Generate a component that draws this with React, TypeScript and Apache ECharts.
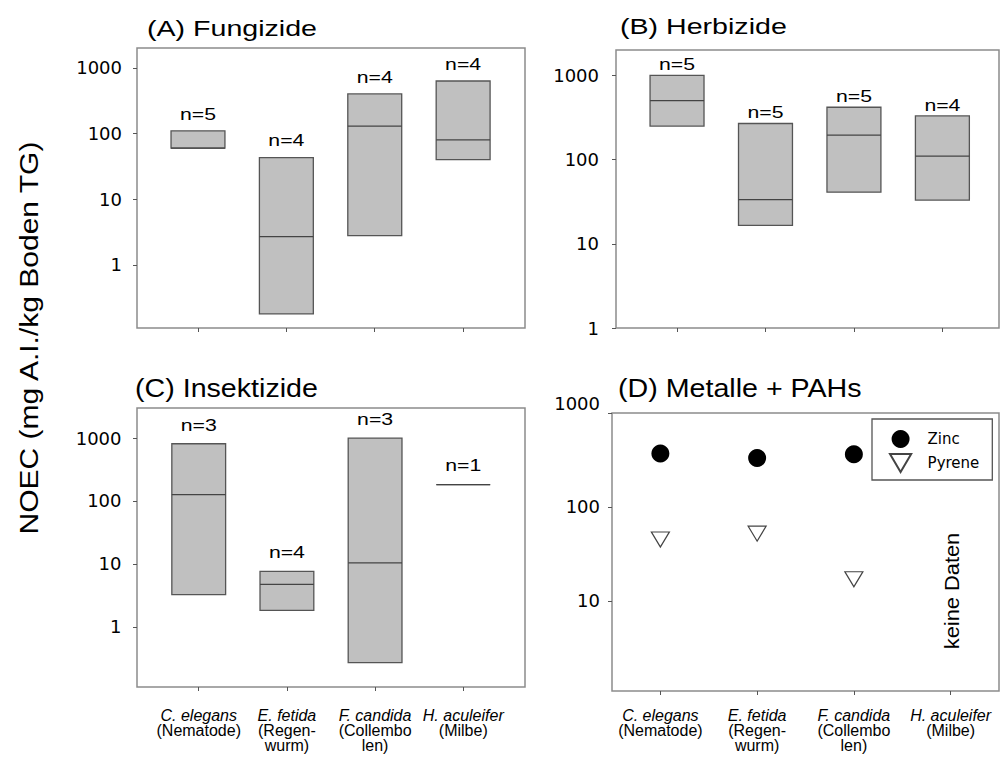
import React, { useEffect, useRef } from "react";
import * as echarts from "echarts";

// ---- data ----
const positions = [1, 2, 3, 4];
const species = ["C. elegans", "E. fetida", "F. candida", "H. aculeifer"];
const groupNames = ["(Nematode)", "(Regen-\nwurm)", "(Collembo\nlen)", "(Milbe)"];

const fungLow = [60, 0.18, 2.8, 40];
const fungMed = [60, 2.7, 130, 80];
const fungHigh = [110, 43, 400, 630];
const fungN = [5, 4, 4, 4];

const herbLow = [250, 16.5, 41, 33];
const herbMed = [500, 33.5, 195, 110];
const herbHigh = [1000, 268, 418, 330];
const herbN = [5, 5, 5, 4];

const insLow = [3.25, 1.83, 0.27, 182];
const insMed = [126, 4.75, 10.4, 182];
const insHigh = [811, 7.6, 1000, 182];
const insN = [3, 4, 3, 1];

const zincPos = [1, 2, 3];
const zincVals = [370, 332, 364];
const pyrenePos = [1, 2, 3];
const pyreneVals = [45, 52, 17];

const yTicksABC = [1, 10, 100, 1000];
const yTicksD = [10, 100, 1000];

const titles = ["(A) Fungizide", "(B) Herbizide", "(C) Insektizide", "(D) Metalle + PAHs"];
const yTitle = "NOEC (mg A.I./kg Boden TG)";
const noDataText = "keine Daten";

const ARIAL = '"Liberation Sans", Arial, sans-serif';
const DEJAVU = '"DejaVu Sans", sans-serif';
const TRI = "path://M0,0L20,0L10,17Z";

function boxData(low: number[], med: number[], high: number[], n: number[]) {
  return positions.map((p, i) => [p, low[i], med[i], high[i], n[i]]);
}

function makeRender(labelOffset: number) {
  return (params: any, api: any) => {
    const x = api.value(0);
    const lo = api.value(1);
    const md = api.value(2);
    const hi = api.value(3);
    const n = api.value(4);
    const pLo = api.coord([x, lo]);
    const pHi = api.coord([x, hi]);
    const pMd = api.coord([x, md]);
    const xl = api.coord([x - 0.305, hi])[0];
    const xr = api.coord([x + 0.305, hi])[0];
    return {
      type: "group",
      children: [
        {
          type: "rect",
          shape: { x: xl, y: pHi[1], width: xr - xl, height: pLo[1] - pHi[1] },
          style: { fill: "#c0c0c0", stroke: "#555555", lineWidth: 1.3 },
        },
        {
          type: "line",
          shape: { x1: xl, y1: pMd[1], x2: xr, y2: pMd[1] },
          style: { stroke: "#444444", lineWidth: 1.3 },
        },
        {
          type: "text",
          x: pHi[0],
          y: pHi[1] - labelOffset,
          scaleX: 1.25,
          style: {
            text: "n=" + n,
            fontSize: 17,
            fontFamily: ARIAL,
            fill: "#000",
            align: "center",
            verticalAlign: "middle",
          },
        },
      ],
    };
  };
}

function xLabelFormatter(v: number) {
  const i = Math.round(v) - 1;
  const lines = groupNames[i].split("\n").map((l) => `{n|${l}}`);
  return [`{i|${species[i]}}`, ...lines].join("\n");
}

const richX = {
  i: { fontStyle: "italic", fontSize: 16, fontFamily: ARIAL, lineHeight: 15, color: "#000" },
  n: { fontSize: 16, fontFamily: ARIAL, lineHeight: 15, color: "#000" },
};

function xAxis(gridIndex: number, min: number, max: number, showLabels: boolean, margin: number) {
  return {
    type: "value",
    gridIndex,
    min,
    max,
    axisLine: { show: false },
    splitLine: { show: false },
    axisTick: { show: true, customValues: positions, length: 4, lineStyle: { color: "#555", width: 1 } },
    axisLabel: showLabels
      ? { show: true, customValues: positions, formatter: xLabelFormatter, rich: richX, margin, align: "center" }
      : { show: false },
  };
}

function yAxis(gridIndex: number, min: number, max: number, ticks: number[], margin: number, liftTop: boolean) {
  return {
    type: "log",
    logBase: 10,
    gridIndex,
    min,
    max,
    axisLine: { show: false },
    splitLine: { show: false },
    minorTick: { show: false },
    axisTick: { show: true, customValues: ticks, length: 4, lineStyle: { color: "#555", width: 1 } },
    axisLabel: {
      show: true,
      customValues: ticks,
      formatter: (v: number) => {
        const s = String(Math.round(v));
        return liftTop && Math.round(v) === max ? `{up|${s}}` : `{d|${s}}`;
      },
      rich: {
        d: { fontFamily: DEJAVU, fontSize: 18, color: "#000" },
        up: { fontFamily: DEJAVU, fontSize: 18, color: "#000", padding: [0, 0, 20, 0] },
      },
      fontFamily: DEJAVU,
      fontSize: 18,
      color: "#000",
      margin,
    },
  };
}

const gridStyle = { show: true, borderColor: "#8c8c8c", borderWidth: 1.5, backgroundColor: "transparent" };

export default function App() {
  const ref = useRef<HTMLDivElement>(null);
  useEffect(() => {
    if (!ref.current) return;
    const chart = echarts.init(ref.current, undefined, { renderer: "svg" });
    const option: any = {
      animation: false,
      backgroundColor: "#fff",
      textStyle: { fontFamily: ARIAL },
      grid: [
        { left: 137, top: 48, width: 388, height: 280, ...gridStyle },
        { left: 616, top: 50, width: 383, height: 278, ...gridStyle },
        { left: 137, top: 408, width: 388, height: 279, ...gridStyle },
        { left: 612, top: 413, width: 387, height: 278, ...gridStyle },
      ],
      xAxis: [
        xAxis(0, 0.31, 4.7, false, 8),
        xAxis(1, 0.31, 4.64, false, 8),
        xAxis(2, 0.3, 4.7, true, 21),
        xAxis(3, 0.5, 4.5, true, 17),
      ],
      yAxis: [
        yAxis(0, 0.11, 2000, yTicksABC, 15, false),
        yAxis(1, 1, 2000, yTicksABC, 17, false),
        yAxis(2, 0.111, 3000, yTicksABC, 15.5, false),
        yAxis(3, 1.1, 1000, yTicksD, 12, true),
      ],
      legend: {
        data: ["Zinc", "Pyrene"],
        orient: "vertical",
        left: 872,
        top: 419,
        itemWidth: 44,
        itemHeight: 18,
        itemGap: 5,
        padding: [11, 13, 7, 17],
        borderColor: "#555",
        borderWidth: 1.3,
        selectedMode: false,
        textStyle: { fontFamily: DEJAVU, fontSize: 15, color: "#000" },
      },
      series: [
        {
          type: "custom",
          xAxisIndex: 0,
          yAxisIndex: 0,
          renderItem: makeRender(17),
          encode: { x: 0, y: [1, 2, 3] },
          data: boxData(fungLow, fungMed, fungHigh, fungN),
        },
        {
          type: "custom",
          xAxisIndex: 1,
          yAxisIndex: 1,
          renderItem: makeRender(11),
          encode: { x: 0, y: [1, 2, 3] },
          data: boxData(herbLow, herbMed, herbHigh, herbN),
        },
        {
          type: "custom",
          xAxisIndex: 2,
          yAxisIndex: 2,
          renderItem: makeRender(19),
          encode: { x: 0, y: [1, 2, 3] },
          data: boxData(insLow, insMed, insHigh, insN),
        },
        {
          name: "Zinc",
          type: "scatter",
          xAxisIndex: 3,
          yAxisIndex: 3,
          symbol: "circle",
          symbolSize: 18,
          itemStyle: { color: "#000", opacity: 1 },
          data: zincPos.map((p, i) => [p, zincVals[i]]),
        },
        {
          name: "Pyrene",
          type: "scatter",
          xAxisIndex: 3,
          yAxisIndex: 3,
          symbol: TRI,
          symbolSize: [18, 15],
          itemStyle: { color: "#fff", borderColor: "#444", borderWidth: 1.2, opacity: 1 },
          data: pyrenePos.map((p, i) => [p, pyreneVals[i]]),
        },
      ],
      graphic: [
        {
          type: "text", x: 147, y: 28, scaleX: 1.3,
          style: { text: titles[0], fontSize: 22, fontFamily: ARIAL, fill: "#000", align: "left", verticalAlign: "middle" },
        },
        {
          type: "text", x: 620, y: 26.7, scaleX: 1.3,
          style: { text: titles[1], fontSize: 22, fontFamily: ARIAL, fill: "#000", align: "left", verticalAlign: "middle" },
        },
        {
          type: "text", x: 135, y: 388.3, scaleX: 1.08,
          style: { text: titles[2], fontSize: 26.5, fontFamily: ARIAL, fill: "#000", align: "left", verticalAlign: "middle" },
        },
        {
          type: "text", x: 618, y: 387.8, scaleX: 1.08,
          style: { text: titles[3], fontSize: 26.5, fontFamily: ARIAL, fill: "#000", align: "left", verticalAlign: "middle" },
        },
        {
          type: "text", x: 29, y: 338, rotation: Math.PI / 2, scaleX: 1.2,
          style: { text: yTitle, fontSize: 25, fontFamily: ARIAL, fill: "#000", align: "center", verticalAlign: "middle" },
        },
        {
          type: "text", x: 952, y: 591, rotation: Math.PI / 2, scaleX: 1.04,
          style: { text: noDataText, fontSize: 21, fontFamily: ARIAL, fill: "#000", align: "center", verticalAlign: "middle" },
        },
      ],
    };
    chart.setOption(option);
    return () => chart.dispose();
  }, []);
  return (
    <div
      ref={ref}
      style={{ position: "fixed", left: 0, top: 0, width: 1000, height: 759, background: "#fff" }}
    />
  );
}
